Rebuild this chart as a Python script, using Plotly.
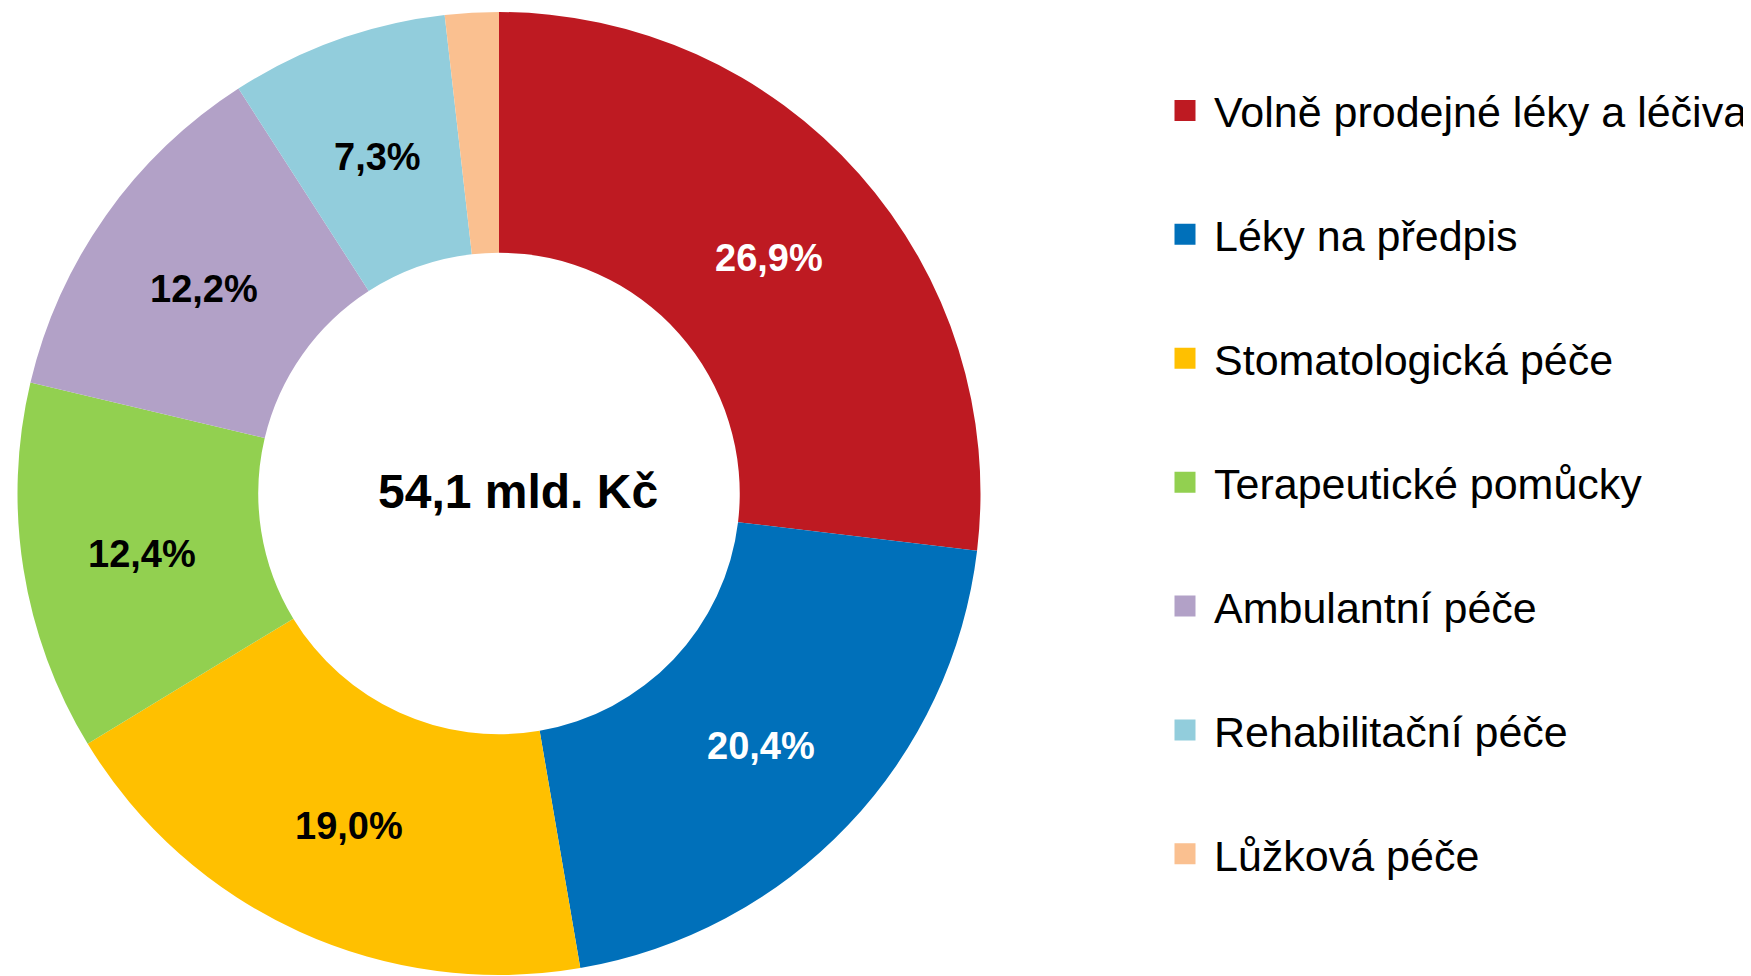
import math
import plotly.graph_objects as go

categories = [
    "Volně prodejné léky a léčiva",
    "Léky na předpis",
    "Stomatologická péče",
    "Terapeutické pomůcky",
    "Ambulantní péče",
    "Rehabilitační péče",
    "Lůžková péče",
]
shares = [26.9, 20.4, 19.0, 12.4, 12.2, 7.3, 1.8]
show_label = [True, True, True, True, True, True, False]
colors = ["#BE1A22", "#0070BA", "#FFC000", "#92D050", "#B2A1C7", "#92CDDC", "#FAC090"]
label_colors = ["white", "white", "black", "black", "black", "black", "black"]
center_text = "54,1 mld. Kč"

W, H = 1751, 976
OFF = 8  # page body margin
cx, cy, R = 499 - OFF, 493.5 - OFF, 481.5
HOLE = 0.5

FONT = "Liberation Sans"

fig = go.Figure()
fig.add_trace(go.Pie(
    labels=categories,
    values=shares,
    textinfo="none",
    marker=dict(colors=colors, line=dict(width=0)),
    hole=HOLE,
    sort=False,
    direction="clockwise",
    rotation=0,
    showlegend=False,
    domain=dict(x=[(cx - R) / W, (cx + R) / W], y=[(H - cy - R) / H, (H - cy + R) / H]),
))

# percentage labels at the middle of the ring, angle derived from the data
total = sum(shares)
r_lab = R * (1 + HOLE) / 2
cum = 0.0
for v, s, tc in zip(shares, show_label, label_colors):
    mid = (cum + v / 2) / total
    cum += v
    if not s:
        continue
    th = math.radians(90 - 360 * mid)
    lx = cx + r_lab * math.cos(th)
    ly = cy - r_lab * math.sin(th) + 4
    fig.add_annotation(
        x=lx / W, y=1 - ly / H, xref="paper", yref="paper",
        xanchor="center", yanchor="middle", showarrow=False,
        text="<b>" + f"{v:.1f}".replace(".", ",") + "%</b>",
        font=dict(family=FONT, size=38, color=tc),
    )

for name, col in zip(categories, colors):
    fig.add_trace(go.Scatter(
        x=[None], y=[None], mode="markers", name=name,
        marker=dict(symbol="square", size=16, color=col, line=dict(width=5, color=col)),
        legendgroup=name, showlegend=True,
    ))

fig.add_annotation(
    x=(cx + 19) / W, y=(H - cy + 2) / H, xref="paper", yref="paper",
    xanchor="center", yanchor="middle",
    text=f"<b>{center_text}</b>", showarrow=False,
    font=dict(family=FONT, size=48, color="black"),
)

fig.update_layout(
    width=W, height=H,
    margin=dict(l=0, r=0, t=0, b=0),
    paper_bgcolor="white", plot_bgcolor="white",
    xaxis=dict(visible=False), yaxis=dict(visible=False),
    separators=", ",
    legend=dict(
        x=1148 / W, xanchor="left", y=1 - 68 / H, yanchor="top",
        font=dict(family=FONT, size=43, color="black"),
        tracegroupgap=65, itemwidth=48,
        bgcolor="rgba(0,0,0,0)",
    ),
)

fig.write_html("out.html")
